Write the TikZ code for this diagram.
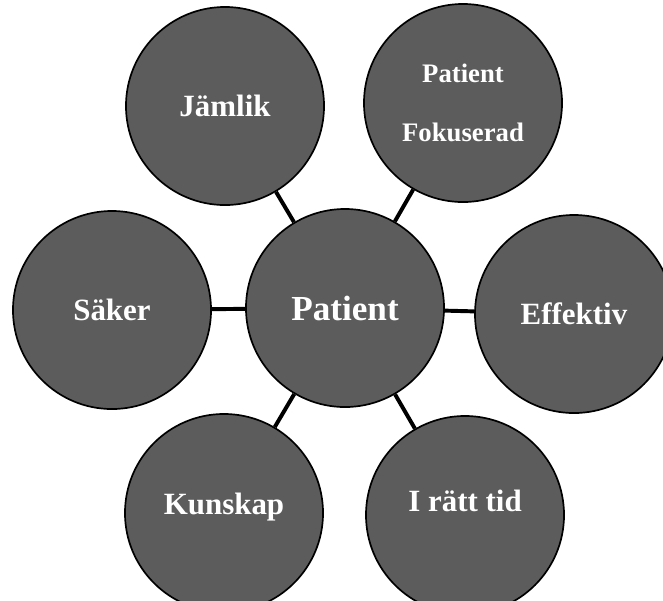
\documentclass[tikz,border=0pt]{standalone}
\usepackage{fontspec}
\setmainfont{Liberation Serif}
\usetikzlibrary{positioning}

\tikzset{
  ball/.style={circle, draw=black, line width=1.2pt, fill=black!64, minimum size=4.95cm,
    inner sep=0pt, text=white, align=center, font=\bfseries\fontsize{22}{22}\selectfont},
  link/.style={draw=black, line width=2.8pt}
}

\begin{document}
\begin{tikzpicture}[x=0.025cm, y=-0.025cm]
        \useasboundingbox (0,0) rectangle (663,600);
        \node[ball, font=\bfseries\fontsize{25}{25}\selectfont] (patient) at (345,308) {Patient};
        \node[ball] (jamlik) at (225,106) {Jämlik};
        \node[ball, font=\bfseries\fontsize{19}{42}\selectfont, text depth=-0.2cm] (fokus) at (463,103) {Patient\\Fokuserad};
        \node[ball] (saker) at (112,310) {Säker};
        \node[ball] (effektiv) at (574,314) {Effektiv};
        \node[ball, text depth=0.45cm] (kunskap) at (224,513) {Kunskap};
        \node[ball, text depth=0.7cm] (irattid) at (465,515) {I rätt tid};
        \draw[link] (patient) -- (jamlik);
        \draw[link] (patient) -- (fokus);
        \draw[link] (patient) -- (saker);
        \draw[link] (patient) -- (effektiv);
        \draw[link] (patient) -- (kunskap);
        \draw[link] (patient) -- (irattid);
\end{tikzpicture}
\end{document}
